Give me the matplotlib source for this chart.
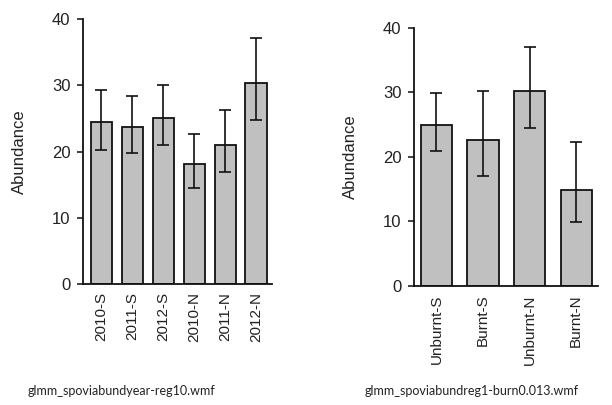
import matplotlib
matplotlib.use("Agg")
import matplotlib.pyplot as plt

plt.rcParams['font.family'] = ['Liberation Sans', 'DejaVu Sans']

# left panel: year x region
year_labels = ["2010-S", "2011-S", "2012-S", "2010-N", "2011-N", "2012-N"]
year_mean = [24.4, 23.7, 25.1, 18.1, 21.0, 30.3]
year_upper = [29.3, 28.4, 30.1, 22.6, 26.2, 37.2]
year_lower = [20.3, 19.8, 21.0, 14.5, 16.9, 24.7]

# right panel: burn x region
burn_labels = ["Unburnt-S", "Burnt-S", "Unburnt-N", "Burnt-N"]
burn_mean = [25.0, 22.7, 30.2, 14.8]
burn_upper = [29.9, 30.3, 37.1, 22.3]
burn_lower = [20.9, 17.1, 24.5, 9.9]

captions = ["glmm_spoviabundyear-reg10.wmf", "glmm_spoviabundreg1-burn0.013.wmf"]

fig = plt.figure(figsize=(6.12, 4.05), dpi=100)
ax1 = fig.add_axes([0.1356, 0.2988, 0.309, 0.654])
ax2 = fig.add_axes([0.6765, 0.294, 0.3007, 0.637])


def draw_panel(ax, labels, mean, upper, lower, width, xlim):
    x = list(range(len(labels)))
    yerr = [[m - lo for m, lo in zip(mean, lower)],
            [up - m for m, up in zip(mean, upper)]]
    ax.bar(x, mean, width=width, color="#c0c0c0", edgecolor="#111111",
           linewidth=1.3, zorder=2)
    ax.errorbar(x, mean, yerr=yerr, fmt="none", ecolor="#111111",
                elinewidth=1.2, capsize=4.5, capthick=1.2, zorder=3)
    ax.set_xlim(*xlim)
    ax.set_ylim(0, 40)
    ax.set_yticks([0, 10, 20, 30, 40])
    ax.set_xticks(x)
    ax.set_xticklabels(labels, rotation=90)
    ax.tick_params(axis="x", length=0, pad=6, labelsize=11, colors="#222222")
    ax.tick_params(axis="y", length=4, width=1.2, pad=5, labelsize=12,
                   colors="#222222", direction="out")
    for s in ["top", "right"]:
        ax.spines[s].set_visible(False)
    for s in ["left", "bottom"]:
        ax.spines[s].set_linewidth(1.3)
        ax.spines[s].set_color("#111111")
    ax.set_ylabel("Abundance", fontsize=12, color="#222222", labelpad=18)


draw_panel(ax1, year_labels, year_mean, year_upper, year_lower, 0.68, (-0.59, 5.52))
draw_panel(ax2, burn_labels, burn_mean, burn_upper, burn_lower, 0.67, (-0.48, 3.47))

# file-name captions under each panel
fig.text(0.198, 0.035, captions[0], ha="center", va="center", fontsize=9,
         family="Lato", color="#222222")
fig.text(0.771, 0.035, captions[1], ha="center", va="center", fontsize=9,
         family="Lato", color="#222222")

fig.savefig("out.png", dpi=100)
